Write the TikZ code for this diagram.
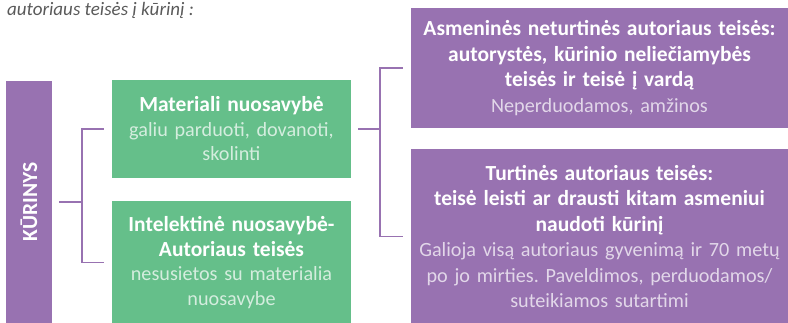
\documentclass[tikz,border=0pt]{standalone}
\usepackage{fontspec}
\setmainfont{Carlito}
\usepackage{xcolor}
\usepackage{tikz}
\usetikzlibrary{positioning, calc}
\definecolor{rightsgreen}{HTML}{65BF8A}
\definecolor{rightspurple}{HTML}{9872B1}
\definecolor{titlegray}{HTML}{5A5A5A}
\frenchspacing

\begin{document}
\begin{tikzpicture}[
    x=1pt, y=-1pt,
    node distance=22pt,
    greenbox/.style={rectangle, fill=rightsgreen, text=white, minimum width=239pt, text width=235pt, align=center, inner sep=2pt, font=\fontsize{20.2}{24.5}\selectfont},
    purplebox/.style={rectangle, fill=rightspurple, text=white, minimum width=377pt, text width=373pt, align=center, inner sep=2pt, font=\fontsize{20.2}{25.5}\selectfont},
    link/.style={draw=rightspurple, line width=1.6pt}
]
\useasboundingbox (0,0) rectangle (788,323);

% Title line
\node[anchor=base west, inner sep=0pt, text=titlegray, font=\fontsize{19}{21}\selectfont\itshape] (title) at (7,16) {autoriaus teisės į kūrinį :};

% Work
\node[rectangle, fill=rightspurple, minimum width=46pt, minimum height=242pt, inner sep=0pt] (work) at (29,202) {};
\node[rotate=90, text=white, font=\fontsize{21.5}{24}\selectfont\bfseries] (worklabel) at (work.center) {KŪRINYS};

% Property
\node[greenbox, minimum height=98pt] (material) at (231.5,129) {\textbf{\fontsize{21.5}{24.5}\selectfont Materiali nuosavybė}\\ {\color{white!72!rightsgreen}galiu parduoti, dovanoti,\\ skolinti}};
\node[greenbox, minimum height=122pt, below=23pt of material] (intellect) {\textbf{\fontsize{21.5}{24.5}\selectfont Intelektinė nuosavybė-}\\ \textbf{\fontsize{21.5}{24.5}\selectfont Autoriaus teisės}\\ {\color{white!72!rightsgreen}nesusietos su materialia\\ nuosavybe}};

% Author rights
\node[purplebox, minimum height=120pt] (personal) at (599.5,68) {\textbf{\fontsize{21.5}{25.5}\selectfont Asmeninės neturtinės autoriaus teisės:}\\ \textbf{\fontsize{21.5}{25.5}\selectfont autorystės, kūrinio neliečiamybės}\\ \textbf{\fontsize{21.5}{25.5}\selectfont teisės ir teisė į vardą}\\ {\color{white!72!rightspurple}Neperduodamos, amžinos}};
\node[purplebox, minimum height=174pt, below=21pt of personal] (economic) {\textbf{\fontsize{21.5}{25.5}\selectfont Turtinės autoriaus teisės:}\\ \textbf{\fontsize{21.5}{25.5}\selectfont teisė leisti ar drausti kitam asmeniui}\\ \textbf{\fontsize{21.5}{25.5}\selectfont naudoti kūrinį}\\ {\color{white!72!rightspurple}Galioja visą autoriaus gyvenimą ir 70 metų\\ po jo mirties. Paveldimos, perduodamos/\\ suteikiamos sutartimi}};

% Brackets
\draw[link] ([xshift=7pt]work.east) -- ++(23pt,0) coordinate (leftjoin);
\draw[link] ([xshift=-8pt]material.west) -| (leftjoin) |- ([xshift=-8pt]intellect.west);
\draw[link] ([xshift=7pt]material.east) -- ++(22pt,0) coordinate (rightjoin);
\draw[link] ([xshift=-8pt]personal.west) -| (rightjoin) |- ([xshift=-8pt]economic.west);

\end{tikzpicture}
\end{document}
